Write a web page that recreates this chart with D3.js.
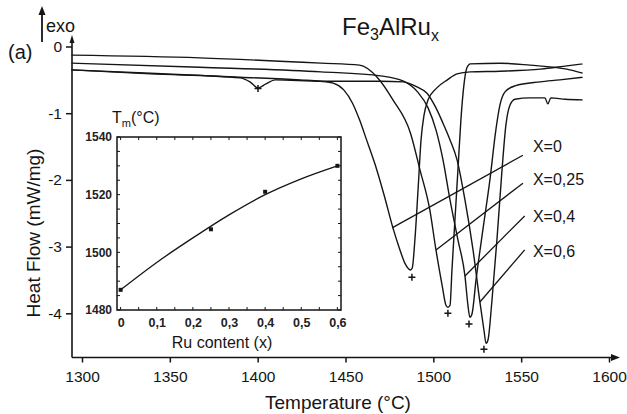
<!DOCTYPE html>
<html lang="en">
<head>
    <meta charset="UTF-8">
    <title>Fe3AlRux DTA</title>
    <script src="https://d3js.org/d3.v7.min.js"></script>
    <style>
        body { margin: 0; background: #fff; }
        svg { font-family: "Liberation Sans", Arial, sans-serif; }
    </style>
</head>
<body>
    <script>
        // DTA curves, [temperature (°C), heat flow (mW/mg)]
        const seriesNames = ["X=0", "X=0,25", "X=0,4", "X=0,6"];

        const curveX0 = [
            [1294, -0.35], [1339, -0.40], [1390, -0.46], [1424, -0.50], [1436, -0.52],
            [1443, -0.55], [1449, -0.65], [1454, -0.85], [1458, -1.10], [1462, -1.40],
            [1467, -1.78], [1472, -2.23], [1477, -2.72], [1481, -3.05], [1484, -3.26],
            [1487, -3.35], [1488, -3.32], [1489.5, -2.90], [1491.3, -2.15], [1493, -1.40],
            [1494.7, -1.03], [1497, -0.80], [1502, -0.62], [1508, -0.50], [1513.5, -0.41],
            [1521, -0.38], [1538, -0.37], [1561, -0.34], [1576, -0.29], [1585, -0.26]
        ];
        const curveX025 = [
            [1294, -0.13], [1367, -0.17], [1436, -0.25], [1458, -0.28], [1468, -0.46],
            [1477, -0.80], [1487, -1.30], [1492.4, -1.85], [1498, -2.45], [1501.5, -3.05],
            [1505, -3.58], [1507.2, -3.88], [1508.3, -3.91], [1509.5, -3.88], [1510.6, -3.35],
            [1512.3, -2.60], [1514, -1.85], [1515.7, -1.10], [1517.4, -0.58], [1519.1, -0.32],
            [1521, -0.26], [1538, -0.25], [1555, -0.28], [1576, -0.34], [1585, -0.40]
        ];
        const curveX04 = [
            [1294, -0.25], [1367, -0.31], [1436, -0.38], [1470, -0.44], [1483, -0.52],
            [1491, -0.68], [1497, -0.92], [1501.5, -1.25], [1505.5, -1.70], [1509.5, -2.30],
            [1514, -2.90], [1518, -3.44], [1519.7, -3.88], [1520.8, -4.06], [1522, -4.01],
            [1524.3, -3.50], [1528.2, -2.75], [1532.2, -2.00], [1535.6, -1.25], [1537.9, -0.88],
            [1540.8, -0.68], [1546.5, -0.59], [1560.7, -0.53], [1572, -0.50], [1585, -0.46]
        ];
        const curveX06 = [
            [1294, -0.35], [1339, -0.41], [1390, -0.47], [1395.6, -0.53], [1400.2, -0.62],
            [1404.7, -0.56], [1410, -0.50], [1436, -0.52], [1470, -0.52], [1483, -0.53],
            [1491, -0.61], [1496.4, -0.70], [1501.5, -0.92], [1505.5, -1.15], [1509.5, -1.40],
            [1513.5, -1.70], [1518, -2.30], [1522.6, -3.05], [1526.5, -3.83], [1528.8, -4.25],
            [1530, -4.45], [1531.1, -4.40], [1533.4, -3.80], [1536.2, -2.90], [1539.1, -1.85],
            [1541.3, -1.18], [1543.6, -0.88], [1546.5, -0.79], [1555, -0.77], [1563.5, -0.77],
            [1565.2, -0.86], [1566.9, -0.77], [1575, -0.79], [1585, -0.80]
        ];
        const curves = [curveX0, curveX025, curveX04, curveX06];

        // "+" marks under each melting peak (and the small one at 1400)
        const peakTemps = [1487.8, 1508.3, 1520.3, 1528.8, 1400.2];
        const peakFlows = [-3.46, -4.00, -4.16, -4.54, -0.63];

        // leader lines: point on the curve -> label end
        const leaderOnCurve = [[1476.5, -2.72], [1501.5, -3.05], [1518, -3.44], [1526.5, -3.83]];
        const leaderAtLabel = [[1551, -1.63], [1551, -2.05], [1552, -2.54], [1552, -3.05]];
        const labelFlows = [-1.49, -1.99, -2.54, -3.07];
        const labelTemp = 1556.7;

        // axes
        const xTicks = [1300, 1350, 1400, 1450, 1500, 1550, 1600];
        const yTicks = [0, -1, -2, -3, -4];

        // inset: melting temperature vs Ru content
        const ruContent = [0, 0.25, 0.4, 0.6];
        const meltTemp = [1487, 1508, 1521, 1530];
        const fitRu = [0, 0.1, 0.2, 0.3, 0.4, 0.5, 0.6];
        const fitTemp = [1487, 1496.5, 1505, 1513, 1520, 1525.5, 1530];
        const insetXTicks = [0, 0.1, 0.2, 0.3, 0.4, 0.5, 0.6];
        const insetXLabels = ["0", "0,1", "0,2", "0,3", "0,4", "0,5", "0,6"];
        const insetYTicks = [1480, 1500, 1520, 1540];

        const width = 627, height = 414;
        const ink = "#151515";

        const svg = d3.select("body").append("svg")
            .attr("width", width)
            .attr("height", height);

        // main scales
        const x = d3.scaleLinear().domain([1300, 1600]).range([82, 609]);
        const y = d3.scaleLinear().domain([0, -4]).range([46.5, 313.3]);
        const axisY = 357.5, axisX = 72;

        // main axes
        const gx = svg.append("g")
            .attr("transform", `translate(0,${axisY})`)
            .call(d3.axisBottom(x).tickValues(xTicks).tickSize(5).tickSizeOuter(0)
                .tickPadding(8).tickFormat(d3.format("d")));
        gx.select(".domain").remove();
        gx.selectAll("line").attr("stroke", ink).attr("stroke-width", 1.5);
        gx.selectAll("text").attr("font-size", 15.5).attr("fill", ink).attr("font-family", null);

        const gy = svg.append("g")
            .attr("transform", `translate(${axisX},0)`)
            .call(d3.axisLeft(y).tickValues(yTicks).tickSize(6).tickSizeOuter(0)
                .tickPadding(4).tickFormat(d => String(d)));
        gy.select(".domain").remove();
        gy.selectAll("line").attr("stroke", ink).attr("stroke-width", 1.5);
        gy.selectAll("text").attr("font-size", 15.5).attr("fill", ink).attr("font-family", null);

        svg.append("path")
            .attr("d", `M${axisX},${axisY}H614M${axisX},${axisY}V40`)
            .attr("fill", "none").attr("stroke", ink).attr("stroke-width", 1.6);
        // arrow heads
        svg.append("path")
            .attr("d", `M620,${axisY}L611,${axisY - 3.5}L611,${axisY + 3.5}Z M${axisX},35L${axisX - 2.5},43L${axisX + 2.5},43Z`)
            .attr("fill", ink);

        // exo arrow
        svg.append("path").attr("d", "M42,42V14").attr("stroke", ink).attr("stroke-width", 1.8);
        svg.append("path").attr("d", "M42,6L38.5,15L45.5,15Z").attr("fill", ink);
        svg.append("text").attr("x", 46).attr("y", 32).attr("font-size", 18).attr("fill", ink).text("exo");
        svg.append("text").attr("x", 8).attr("y", 59).attr("font-size", 20).attr("fill", ink).text("(a)");

        // axis titles
        svg.append("text")
            .attr("x", 338).attr("y", 409)
            .attr("text-anchor", "middle").attr("font-size", 19).attr("fill", ink)
            .text("Temperature (°C)");
        svg.append("text")
            .attr("transform", "translate(40,233) rotate(-90)")
            .attr("text-anchor", "middle").attr("font-size", 19).attr("fill", ink)
            .text("Heat Flow (mW/mg)");

        // chart title Fe3AlRux
        const title = svg.append("text").attr("x", 342).attr("y", 35)
            .attr("font-size", 24).attr("fill", ink);
        title.append("tspan").text("Fe");
        title.append("tspan").attr("font-size", 16).attr("dy", 5).text("3");
        title.append("tspan").attr("dy", -5).text("AlRu");
        title.append("tspan").attr("font-size", 16).attr("dy", 6).text("x");

        // DTA curves
        const line = d3.line()
            .x(d => x(d[0]))
            .y(d => y(d[1]))
            .curve(d3.curveMonotoneX);

        svg.append("g")
            .selectAll("path")
            .data(curves)
            .join("path")
            .attr("d", line)
            .attr("fill", "none")
            .attr("stroke", ink)
            .attr("stroke-width", 1.4);

        // peak marks
        svg.append("g")
            .selectAll("path")
            .data(peakTemps)
            .join("path")
            .attr("d", (d, i) => `M${x(d) - 3.5},${y(peakFlows[i])}h7M${x(d)},${y(peakFlows[i]) - 3.5}v7`)
            .attr("stroke", ink)
            .attr("stroke-width", 1.5);

        // leaders and labels
        svg.append("g")
            .selectAll("line")
            .data(leaderOnCurve)
            .join("line")
            .attr("x1", d => x(d[0]))
            .attr("y1", d => y(d[1]))
            .attr("x2", (d, i) => x(leaderAtLabel[i][0]))
            .attr("y2", (d, i) => y(leaderAtLabel[i][1]))
            .attr("stroke", ink)
            .attr("stroke-width", 1.3);

        svg.append("g")
            .selectAll("text")
            .data(seriesNames)
            .join("text")
            .attr("x", x(labelTemp))
            .attr("y", (d, i) => y(labelFlows[i]))
            .attr("dy", "0.36em")
            .attr("font-size", 16)
            .attr("fill", ink)
            .text(d => d);

        // inset
        const ix = d3.scaleLinear().domain([-0.01, 0.61]).range([117, 341]);
        const iy = d3.scaleLinear().domain([1480, 1540]).range([310, 137]);

        const inset = svg.append("g");
        inset.append("rect")
            .attr("x", 117).attr("y", 137).attr("width", 224).attr("height", 173)
            .attr("fill", "#fff").attr("stroke", ink).attr("stroke-width", 1.5);

        // inward minor ticks on all four sides
        const minorX = d3.range(0, 0.601, 0.05);
        const minorY = d3.range(1480, 1540.1, 5);
        inset.append("g").selectAll("path")
            .data(minorX)
            .join("path")
            .attr("d", d => `M${ix(d)},310v-3M${ix(d)},137v3`)
            .attr("stroke", ink).attr("stroke-width", 1);
        inset.append("g").selectAll("path")
            .data(minorY)
            .join("path")
            .attr("d", d => `M117,${iy(d)}h3M341,${iy(d)}h-3`)
            .attr("stroke", ink).attr("stroke-width", 1);

        const igx = inset.append("g")
            .attr("transform", "translate(0,310)")
            .call(d3.axisBottom(ix).tickValues(insetXTicks).tickSize(0).tickPadding(8)
                .tickFormat((d, i) => insetXLabels[i]));
        igx.select(".domain").remove();
        igx.selectAll("text").attr("font-size", 12.5).attr("font-weight", "bold")
            .attr("fill", "#222").attr("font-family", null);

        const igy = inset.append("g")
            .attr("transform", "translate(117,0)")
            .call(d3.axisLeft(iy).tickValues(insetYTicks).tickSize(0).tickPadding(5)
                .tickFormat(d3.format("d")));
        igy.select(".domain").remove();
        igy.selectAll("text").attr("font-size", 12).attr("font-weight", "bold")
            .attr("fill", "#222").attr("font-family", null);

        inset.append("path")
            .datum(fitRu.map((d, i) => [d, fitTemp[i]]))
            .attr("d", d3.line().x(d => ix(d[0])).y(d => iy(d[1])).curve(d3.curveMonotoneX))
            .attr("fill", "none").attr("stroke", ink).attr("stroke-width", 1.3);

        inset.append("g").selectAll("rect")
            .data(ruContent)
            .join("rect")
            .attr("x", d => ix(d) - 2)
            .attr("y", (d, i) => iy(meltTemp[i]) - 2)
            .attr("width", 4).attr("height", 4)
            .attr("fill", ink);

        const tm = inset.append("text").attr("x", 112).attr("y", 123)
            .attr("font-size", 16).attr("fill", ink);
        tm.append("tspan").text("T");
        tm.append("tspan").attr("font-size", 11).attr("dy", 4).text("m");
        tm.append("tspan").attr("dy", -4).text("(°C)");

        inset.append("text")
            .attr("x", 222).attr("y", 348)
            .attr("text-anchor", "middle").attr("font-size", 16).attr("fill", ink)
            .text("Ru content (x)");
    </script>
</body>
</html>
